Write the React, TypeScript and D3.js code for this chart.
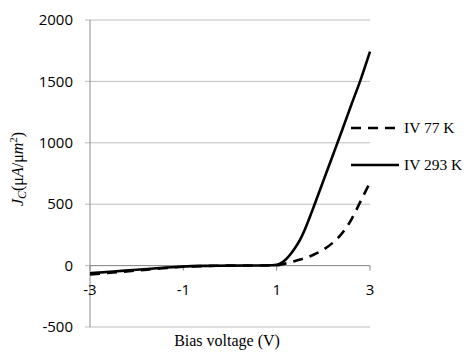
import * as d3 from 'd3';

// bias voltage (V) and current density (uA/um^2)
const voltage = [-3, -2.5, -2, -1.5, -1, -0.5, 0, 0.5, 0.9, 1.0, 1.1, 1.2, 1.3, 1.4, 1.5, 1.6, 1.7, 1.8, 2.0, 2.2, 2.4, 2.6, 2.8, 3.0];
const iv293 = [-62, -48, -34, -20, -7, -2, 0, 1, 3, 6, 22, 52, 95, 148, 210, 290, 385, 485, 690, 895, 1100, 1310, 1515, 1742];
const iv77 = [-72, -56, -40, -24, -9, -3, 0, 1, 2, 3, 10, 18, 28, 38, 49, 60, 74, 90, 130, 185, 262, 375, 525, 678];

const xTicks = [-3, -1, 1, 3];
const yTicks = [-500, 0, 500, 1000, 1500, 2000];
const series = [
  { name: 'IV 77 K', values: iv77, dash: '10,7' },
  { name: 'IV 293 K', values: iv293, dash: null },
];

export default function App() {
  const width = 474;
  const height = 358;

  const x = d3.scaleLinear().domain([-3, 3]).range([90, 370]);
  const y = d3.scaleLinear().domain([-500, 2000]).range([327, 20]);

  const line = d3
    .line<number>()
    .x((_, i) => x(voltage[i]))
    .y((d) => y(d))
    .curve(d3.curveMonotoneX);

  const sans = "'Open Sans', sans-serif";
  const serif = "'Liberation Serif', 'Times New Roman', serif";

  return (
    <svg width={width} height={height} style={{ position: 'absolute', left: 0, top: 0 }}>
      <rect width={width} height={height} fill="#fff" />

      {/* gridlines */}
      {yTicks.map((t) => (
        <line key={t} x1={85} x2={370} y1={y(t)} y2={y(t)} stroke="#bdbdbd" strokeWidth={1} />
      ))}
      {/* y axis */}
      <line x1={x(-3)} x2={x(-3)} y1={y(2000)} y2={y(-500)} stroke="#8a8a8a" strokeWidth={1} />
      {yTicks.map((t) => (
        <text key={t} x={73} y={y(t)} dy="0.35em" textAnchor="end" fontSize={15} fontFamily={sans} fill="#000">
          {t}
        </text>
      ))}
      {/* x axis at zero */}
      <line x1={x(-3)} x2={x(3)} y1={y(0)} y2={y(0)} stroke="#8a8a8a" strokeWidth={1} />
      {xTicks.map((t) => (
        <g key={t} transform={`translate(${x(t)},${y(0)})`}>
          <line y1={0} y2={5} stroke="#8a8a8a" />
          <text y={24} dy="0.35em" textAnchor="middle" fontSize={15} fontFamily={sans} fill="#000">
            {t}
          </text>
        </g>
      ))}

      {/* curves */}
      {series.map((s) => (
        <path
          key={s.name}
          d={line(s.values)!}
          fill="none"
          stroke="#000"
          strokeWidth={2.6}
          strokeDasharray={s.dash ?? undefined}
        />
      ))}

      {/* legend */}
      {series.map((s, i) => (
        <g key={s.name} transform={`translate(351,${128 + i * 37})`}>
          <line x1={0} x2={48} y1={0} y2={0} stroke="#000" strokeWidth={2.6} strokeDasharray={s.dash ?? undefined} />
          <text x={53} y={0} dy="0.35em" fontSize={15.5} fontFamily={serif} fill="#000">
            {s.name}
          </text>
        </g>
      ))}

      {/* axis titles */}
      <text x={227} y={346} textAnchor="middle" fontSize={16} fontFamily={serif} fill="#000">
        Bias voltage (V)
      </text>
      <text
        transform="translate(23,169) rotate(-90)"
        textAnchor="middle"
        fontSize={16}
        fontFamily={serif}
        fill="#000"
      >
        <tspan fontStyle="italic">J</tspan>
        <tspan fontStyle="italic" fontSize={12} dy={3}>C</tspan>
        <tspan dy={-3}>(μ</tspan>
        <tspan fontStyle="italic">A</tspan>
        <tspan>/μ</tspan>
        <tspan fontStyle="italic">m</tspan>
        <tspan fontSize={11} dy={-6}>2</tspan>
        <tspan dy={6}>)</tspan>
      </text>
    </svg>
  );
}
